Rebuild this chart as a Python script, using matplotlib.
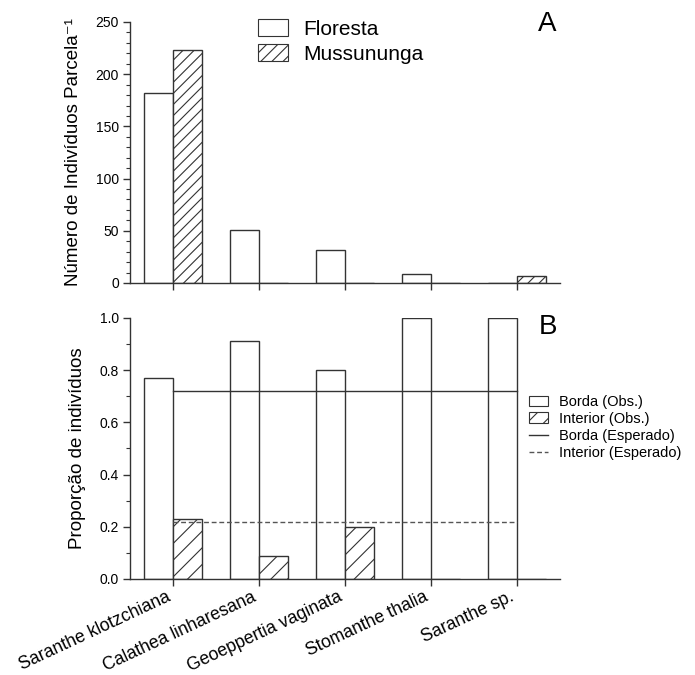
import matplotlib
matplotlib.use("Agg")
import matplotlib.pyplot as plt
from matplotlib.ticker import MultipleLocator, FormatStrFormatter
from matplotlib.patches import Patch
from matplotlib.lines import Line2D

plt.rcParams['font.family'] = ['Liberation Sans', 'DejaVu Sans']
plt.rcParams['hatch.linewidth'] = 0.8

# ---------------- data ----------------
species = ["Saranthe klotzchiana", "Calathea linharesana", "Geoeppertia vaginata",
           "Stomanthe thalia", "Saranthe sp."]
floresta = [182, 51, 32, 9, 0]
mussununga = [223, 0, 0, 0, 7]
borda_obs = [0.77, 0.91, 0.80, 1.00, 1.00]
interior_obs = [0.23, 0.09, 0.20, 0.00, 0.00]
borda_esperado = 0.72
interior_esperado = 0.22

EC = '#333333'
W, H = 695, 675
fig = plt.figure(figsize=(W / 100, H / 100), dpi=100)

def box(l, t, r, b):
    return [l / W, 1 - b / H, (r - l) / W, (b - t) / H]

ax1 = fig.add_axes(box(130, 22, 560, 283))
ax2 = fig.add_axes(box(130, 318, 560, 579))

x = list(range(len(species)))
w = 0.336
xl = [i - w / 2 for i in x]
xr = [i + w / 2 for i in x]

ax1.bar(xl, floresta, width=w, facecolor='white', edgecolor=EC, linewidth=1)
ax1.bar(xr, mussununga, width=w, facecolor='white', edgecolor=EC, linewidth=1, hatch='///')

ax2.bar(xl, borda_obs, width=w, facecolor='white', edgecolor=EC, linewidth=1)
ax2.bar(xr, interior_obs, width=w, facecolor='white', edgecolor=EC, linewidth=1, hatch='//')
ax2.plot([x[0], x[-1]], [borda_esperado] * 2, color=EC, linewidth=1)
ax2.plot([x[0], x[-1]], [interior_esperado] * 2, color='#555555', linewidth=1,
         linestyle=(0, (3.5, 2)))

for ax in (ax1, ax2):
    ax.set_xlim(-0.5, 4.5)
    for s in ('top', 'right'):
        ax.spines[s].set_visible(False)
    for s in ('left', 'bottom'):
        ax.spines[s].set_color(EC)
        ax.spines[s].set_linewidth(1)
        ax.spines[s].set_zorder(3)
    ax.tick_params(axis='both', which='major', direction='out', length=5, width=1,
                   color=EC, labelsize=10, pad=3)
    ax.tick_params(axis='y', which='minor', direction='out', length=3, width=0.8, color=EC)
    ax.set_xticks(x)

ax1.set_ylim(0, 250)
ax1.yaxis.set_major_locator(MultipleLocator(50))
ax1.yaxis.set_minor_locator(MultipleLocator(10))
ax1.set_xticklabels([])
ax1.set_ylabel('Número de Indivíduos Parcela⁻¹', fontsize=13.5, labelpad=10)

ax2.set_ylim(0, 1.0)
ax2.yaxis.set_major_locator(MultipleLocator(0.2))
ax2.yaxis.set_minor_locator(MultipleLocator(0.1))
ax2.yaxis.set_major_formatter(FormatStrFormatter('%.1f'))
ax2.set_ylabel('Proporção de indivíduos', fontsize=13.5, labelpad=10)
ax2.set_xticklabels(species, rotation=25, ha='right', va='top',
                    rotation_mode='default', fontsize=12.7)
ax2.tick_params(axis='x', which='major', pad=2)

ax1.text(547 / W, 1 - 24 / H, 'A', fontsize=20, ha='center', va='center',
         transform=fig.transFigure)
ax2.text(548 / W, 1 - 327 / H, 'B', fontsize=20, ha='center', va='center',
         transform=fig.transFigure)

hA = [Patch(facecolor='white', edgecolor=EC, linewidth=0.8),
      Patch(facecolor='white', edgecolor=EC, linewidth=0.8, hatch='///')]
fig.legend(hA, ['Floresta', 'Mussununga'], loc='upper left',
           bbox_to_anchor=(258 / W, 1 - 19 / H), frameon=False, fontsize=15,
           borderpad=0, borderaxespad=0, handlelength=1.44, handleheight=0.87,
           handletextpad=0.75, labelspacing=0.27)

hB = [Patch(facecolor='white', edgecolor=EC, linewidth=0.8),
      Patch(facecolor='white', edgecolor=EC, linewidth=0.8, hatch='//'),
      Line2D([], [], color=EC, linewidth=1),
      Line2D([], [], color='#555555', linewidth=1, linestyle=(0, (3.5, 2)))]
fig.legend(hB, ['Borda (Obs.)', 'Interior (Obs.)', 'Borda (Esperado)', 'Interior (Esperado)'],
           loc='upper left', bbox_to_anchor=(529 / W, 1 - 395 / H), frameon=False,
           fontsize=10.5, borderpad=0, borderaxespad=0, handlelength=1.3,
           handleheight=0.75, handletextpad=0.75, labelspacing=0.2)

fig.savefig('out.png', dpi=100)
